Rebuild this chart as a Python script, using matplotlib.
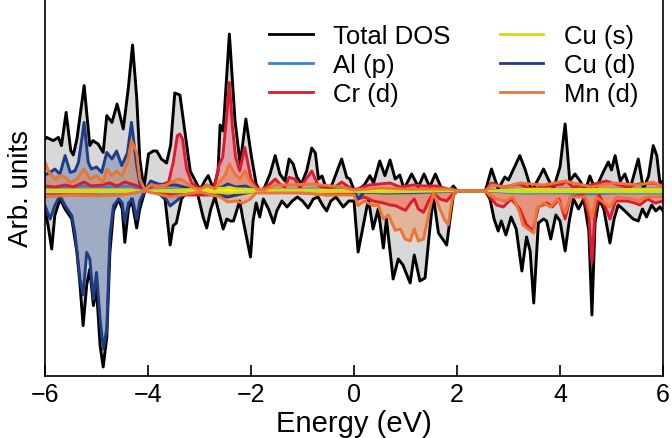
import numpy as np
import matplotlib
matplotlib.use("Agg")
import matplotlib.pyplot as plt

plt.rcParams['font.family'] = ['Liberation Sans', 'DejaVu Sans']

# ---------------- data (energy in eV, DOS in arb. units) ----------------
tot_up_E = [-6.00, -5.97, -5.84, -5.74, -5.68, -5.59, -5.50, -5.45, -5.38, -5.24, -5.13, -5.07,
            -4.97, -4.87, -4.80, -4.70, -4.60, -4.48, -4.38, -4.30, -4.22, -4.16, -4.08, -3.99,
            -3.90, -3.83, -3.74, -3.64, -3.56, -3.48, -3.38, -3.28, -3.18, -3.08, -2.99, -2.90,
            -2.83, -2.73, -2.64, -2.60, -2.54, -2.42, -2.31, -2.21, -2.10, -1.99, -1.90, -1.83,
            -1.75, -1.63, -1.53, -1.44, -1.34, -1.26, -1.18, -1.11, -1.02, -0.92, -0.82, -0.75,
            -0.69, -0.62, -0.53, -0.43, -0.24, -0.14, -0.08, 0.00, 0.10, 0.20, 0.31, 0.38,
            0.50, 0.60, 0.70, 0.80, 0.89, 0.97, 1.12, 1.25, 1.36, 1.47, 1.58, 1.72,
            1.85, 1.93, 2.00, 2.55, 2.67, 2.80, 2.93, 3.00, 3.09, 3.22, 3.32, 3.45,
            3.58, 3.68, 3.77, 3.87, 4.00, 4.10, 4.19, 4.29, 4.39, 4.49, 4.58, 4.68,
            4.72, 4.84, 4.94, 5.00, 5.07, 5.17, 5.26, 5.36, 5.52, 5.62, 5.72, 5.81,
            5.88, 5.94, 6.00]
tot_up = [2.60, 2.68, 2.52, 2.68, 2.27, 3.93, 2.02, 1.80, 2.60, 5.27, 2.27, 2.52,
          2.35, 1.93, 3.77, 3.43, 4.35, 3.10, 5.20, 7.30, 4.70, 1.60, 0.10, 1.85,
          2.00, 2.00, 1.60, 1.40, 2.30, 4.90, 4.80, 2.90, 1.00, 0.50, 0.05, 0.50,
          0.77, 0.10, 1.00, 3.30, 3.00, 7.85, 3.50, 1.35, 3.60, 1.70, 0.35, 0.00,
          0.10, 0.85, 1.77, 0.85, 0.50, 1.60, 1.35, 0.70, 0.35, 1.00, 2.15, 1.90,
          0.60, 0.75, 0.05, 0.30, 1.60, 0.68, 0.60, 0.05, 0.10, 0.30, 0.77, 0.40,
          1.50, 0.77, 1.55, 0.60, 0.80, 0.10, 0.85, 0.20, 0.85, 0.20, 0.85, 0.00,
          0.00, 0.25, 0.00, 0.00, 1.10, 0.10, 0.70, 0.55, 1.05, 1.77, 1.10, 0.00,
          0.60, 1.10, 0.60, 0.10, 1.20, 3.35, 0.50, 0.85, 0.50, 0.00, 0.75, 0.10,
          0.25, 0.95, 1.45, 1.05, 1.77, 0.50, 0.85, 0.10, 1.60, 0.10, 0.75, 2.27,
          1.77, 0.40, 0.50]

tot_dn_E = [-6.00, -5.94, -5.87, -5.81, -5.71, -5.61, -5.48, -5.38, -5.32, -5.26, -5.19, -5.13,
            -5.06, -5.00, -4.93, -4.87, -4.80, -4.74, -4.67, -4.57, -4.50, -4.45, -4.38, -4.32,
            -4.22, -4.16, -4.06, -3.80, -3.67, -3.57, -3.51, -3.45, -3.35, -3.25, -3.05, -2.93,
            -2.86, -2.78, -2.70, -2.57, -2.54, -2.47, -2.40, -2.34, -2.28, -2.22, -2.15, -2.08,
            -2.01, -1.96, -1.90, -1.83, -1.76, -1.66, -1.56, -1.50, -1.40, -1.30, -1.20, -1.10,
            -1.00, -0.89, -0.79, -0.70, -0.60, -0.53, -0.45, -0.35, -0.21, -0.10, 0.00, 0.08,
            0.18, 0.28, 0.37, 0.47, 0.57, 0.63, 0.76, 0.86, 0.95, 1.09, 1.17, 1.28,
            1.38, 1.46, 1.54, 1.64, 1.72, 1.80, 1.86, 1.93, 2.00, 2.55, 2.64, 2.72,
            2.80, 2.86, 2.95, 3.05, 3.15, 3.26, 3.35, 3.42, 3.49, 3.58, 3.68, 3.74,
            3.82, 3.92, 4.00, 4.10, 4.18, 4.26, 4.36, 4.46, 4.56, 4.62, 4.68, 4.76,
            4.85, 4.97, 5.05, 5.13, 5.22, 5.30, 5.42, 5.52, 5.60, 5.68, 5.78, 5.86,
            5.94, 6.00]
tot_dn = [-0.90, -1.73, -2.90, -1.23, -0.40, -0.90, -1.40, -3.07, -4.70, -6.73, -4.70, -3.90,
          -5.73, -4.90, -7.73, -8.80, -7.30, -3.07, -1.00, -0.40, -0.90, -2.57, -0.90, -0.40,
          -1.85, -0.90, 0.00, -0.10, -0.40, -2.70, -1.73, -1.60, -0.40, -0.05, 0.00, -1.30,
          -1.85, -0.90, -0.30, -1.60, -1.90, -1.40, -1.50, -1.50, -1.00, -0.50, -1.50, -2.40,
          -3.30, -1.50, -0.60, -1.30, -0.40, -0.90, -1.60, -1.00, -0.50, -0.80, -0.50, -0.30,
          -0.50, -0.85, -0.40, -0.30, -0.75, -1.00, -0.50, -0.30, -0.80, -0.50, -0.50, -3.05,
          -1.73, -0.40, -1.90, -0.90, -2.85, -1.40, -4.40, -3.40, -3.70, -4.60, -3.20, -4.50,
          -4.35, -2.20, -0.25, -2.10, -2.40, -2.70, -1.50, -0.20, 0.00, 0.00, -0.40, -1.40,
          -2.00, -1.50, -2.20, -1.30, -1.90, -4.00, -2.30, -3.00, -5.60, -1.60, -1.40, -1.50,
          -2.40, -1.20, -1.50, -3.00, -1.50, -0.40, -0.90, -0.40, -2.00, -6.20, -1.60, -0.40,
          -0.90, -2.60, -1.40, -0.70, -0.90, -1.10, -1.40, -1.50, -0.90, -1.30, -0.70, -1.00,
          -0.80, -1.00]

cud_up_E = [-6.00, -5.90, -5.81, -5.71, -5.61, -5.51, -5.42, -5.35, -5.24, -5.16, -5.10, -5.00,
            -4.90, -4.80, -4.70, -4.61, -4.51, -4.40, -4.32, -4.22, -4.16, -4.06, -3.95, -3.80,
            -3.65, -3.45, -3.30, -3.10, -2.90, -2.60, -2.45, -2.30, -2.10, -1.90, 0.00, 0.50,
            1.00, 2.00, 2.55, 3.20, 4.10, 5.00, 6.00]
cud_up = [0.80, 0.93, 1.10, 0.85, 1.77, 0.93, 1.00, 1.43, 3.43, 1.43, 1.10, 1.20,
          0.93, 1.93, 1.60, 2.00, 1.27, 1.90, 3.43, 1.27, 0.40, 0.00, 0.50, 0.35,
          0.30, 0.30, 0.20, 0.05, 0.05, 0.15, 0.35, 0.20, 0.25, 0.00, 0.00, 0.03,
          0.00, 0.00, 0.00, 0.01, 0.02, 0.01, 0.00]
cud_dn_E = [-6.00, -5.90, -5.81, -5.71, -5.61, -5.48, -5.42, -5.32, -5.26, -5.19, -5.13, -5.06,
            -5.00, -4.93, -4.87, -4.80, -4.74, -4.67, -4.57, -4.50, -4.45, -4.38, -4.30, -4.22,
            -4.16, -4.06, -3.80, -3.65, -3.57, -3.45, -3.30, -3.10, -2.95, -2.60, -2.45, -2.20,
            -1.90, 0.00, 0.08, 0.20, 0.57, 2.00, 2.55, 3.49, 4.62, 6.00]
cud_dn = [-0.73, -1.40, -0.73, -0.23, -0.73, -1.23, -2.07, -4.40, -5.20, -3.07, -3.40, -5.40,
          -4.07, -6.40, -7.90, -6.90, -2.23, -0.73, -0.40, -0.60, -1.57, -0.60, -0.40, -1.40,
          -0.50, 0.00, -0.10, -0.40, -0.75, -0.50, -0.15, 0.00, -0.10, -0.25, -0.30, -0.15,
          0.00, -0.01, -0.40, -0.05, -0.10, 0.00, 0.00, -0.03, -0.04, -0.01]

crd_up_E = [-6.00, -5.80, -5.60, -5.45, -5.24, -5.10, -4.90, -4.75, -4.60, -4.45, -4.32, -4.20,
            -4.06, -3.90, -3.75, -3.60, -3.51, -3.43, -3.38, -3.33, -3.25, -3.15, -3.00, -2.85,
            -2.72, -2.62, -2.55, -2.48, -2.42, -2.36, -2.30, -2.22, -2.12, -2.00, -1.90, -1.80,
            -1.63, -1.53, -1.44, -1.34, -1.26, -1.15, -1.05, -0.82, -0.70, -0.55, -0.40, -0.24,
            -0.10, 0.00, 0.30, 0.50, 0.70, 0.90, 1.15, 1.35, 1.60, 1.90, 2.00, 2.55,
            2.67, 2.90, 3.20, 3.45, 3.65, 4.05, 4.12, 4.25, 4.60, 4.90, 5.07, 5.30,
            5.52, 5.81, 6.00]
crd_up = [0.25, 0.20, 0.30, 0.20, 0.45, 0.25, 0.30, 0.40, 0.25, 0.45, 0.35, 0.25,
          0.05, 0.25, 0.30, 0.45, 1.43, 2.77, 2.85, 2.60, 1.10, 0.40, 0.10, 0.30,
          0.10, 1.30, 1.68, 3.50, 5.43, 3.20, 1.70, 1.00, 2.18, 0.60, 0.20, 0.05,
          0.35, 0.60, 0.35, 0.20, 0.68, 0.60, 0.15, 1.00, 0.30, 0.10, 0.15, 0.45,
          0.20, 0.05, 0.30, 0.35, 0.40, 0.20, 0.30, 0.25, 0.25, 0.05, 0.00, 0.00,
          0.40, 0.20, 0.35, 0.10, 0.20, 0.35, 0.50, 0.20, 0.30, 0.50, 0.35, 0.20,
          0.35, 0.40, 0.25]
crd_dn_E = [-6.00, -4.00, -3.57, -2.60, -2.45, -2.20, -1.90, -0.90, -0.53, 0.00, 0.08, 0.20,
            0.37, 0.57, 0.70, 0.80, 0.90, 1.00, 1.10, 1.17, 1.25, 1.35, 1.45, 1.54,
            1.67, 1.80, 1.90, 2.00, 2.55, 2.64, 2.77, 2.90, 3.05, 3.22, 3.35, 3.48,
            3.58, 3.75, 3.85, 3.98, 4.10, 4.20, 4.45, 4.56, 4.62, 4.68, 4.76, 4.88,
            4.97, 5.08, 5.30, 5.45, 5.55, 5.70, 5.85, 6.00]
crd_dn = [-0.10, 0.00, -0.20, -0.20, -0.30, -0.15, 0.00, -0.10, -0.20, -0.10, -0.40, -0.30,
          -0.50, -0.60, -0.70, -0.73, -0.85, -0.97, -0.60, -0.40, -0.90, -1.07, -0.50, -0.10,
          -0.40, -0.50, -0.20, 0.00, 0.00, -0.30, -0.70, -0.80, -0.40, -0.90, -1.70, -2.00,
          -0.80, -0.60, -0.80, -0.40, -1.40, -0.30, -0.20, -1.20, -3.57, -1.00, -0.20, -0.80,
          -1.40, -0.50, -0.50, -0.60, -0.70, -0.40, -0.60, -0.50]

mnd_up_E = [-6.00, -5.92, -5.81, -5.71, -5.61, -5.51, -5.38, -5.24, -5.13, -5.00, -4.87, -4.80,
            -4.70, -4.61, -4.51, -4.40, -4.32, -4.22, -4.16, -4.06, -3.95, -3.80, -3.65, -3.50,
            -3.40, -3.30, -3.15, -3.00, -2.85, -2.70, -2.60, -2.50, -2.42, -2.31, -2.21, -2.12,
            -2.00, -1.90, -1.75, -1.53, -1.26, -0.82, -0.24, 0.00, 0.50, 1.00, 1.50, 1.90,
            2.00, 2.55, 2.67, 2.93, 3.22, 3.68, 4.10, 4.60, 4.94, 5.07, 5.52, 5.81, 6.00]
mnd_up = [1.45, 0.93, 0.60, 0.77, 0.70, 0.43, 0.60, 1.10, 0.60, 0.77, 0.43, 1.10,
          0.77, 1.00, 0.77, 1.43, 2.52, 1.93, 0.60, 0.05, 0.30, 0.25, 0.30, 0.50,
          0.60, 0.50, 0.20, 0.05, 0.30, 0.10, 0.50, 0.80, 1.35, 0.85, 0.60, 1.00,
          0.40, 0.10, 0.05, 0.30, 0.30, 0.35, 0.20, 0.05, 0.15, 0.10, 0.10, 0.10,
          0.00, 0.00, 0.30, 0.20, 0.40, 0.30, 0.50, 0.20, 0.35, 0.40, 0.30, 0.45, 0.20]
mnd_dn_E = [-6.00, -5.50, -5.00, -4.50, -4.06, -3.57, -3.00, -2.60, -2.45, -2.30, -2.15, -2.01,
            -1.90, -1.00, -0.53, 0.00, 0.08, 0.20, 0.37, 0.47, 0.57, 0.67, 0.80, 0.90,
            0.99, 1.09, 1.17, 1.25, 1.35, 1.44, 1.54, 1.67, 1.75, 1.83, 1.90, 1.95,
            2.00, 2.55, 2.64, 2.77, 2.93, 3.09, 3.22, 3.28, 3.42, 3.49, 3.55, 3.68,
            3.82, 3.95, 4.10, 4.20, 4.50, 4.62, 4.70, 4.97, 5.10, 5.42, 5.52, 5.70, 6.00]
mnd_dn = [-0.30, -0.20, -0.25, -0.20, 0.00, -0.30, -0.05, -0.30, -0.55, -0.50, -0.60, -0.40,
          -0.10, -0.10, -0.20, -0.20, -0.73, -0.50, -0.73, -0.70, -1.40, -1.20, -1.97, -1.90,
          -2.40, -2.50, -1.90, -2.50, -2.40, -1.30, -0.10, -0.90, -1.40, -1.70, -0.50, -0.10,
          0.00, 0.00, -0.20, -0.40, -0.50, -0.30, -1.10, -1.70, -1.97, -2.10, -0.90, -0.60,
          -0.80, -0.40, -1.10, -0.30, -0.30, -1.40, -0.30, -0.80, -0.30, -0.40, -0.50, -0.30, -0.30]

alp_E = [-6.00, -5.24, -4.80, -4.32, -4.06, -3.40, -2.42, -1.50, -0.80, 0.00, 0.70, 1.20,
         2.00, 2.55, 3.20, 4.10, 4.60, 5.10, 6.00]
alp_up = [0.15, 0.25, 0.20, 0.25, 0.00, 0.10, 0.15, 0.05, 0.10, 0.05, 0.08, 0.08,
          0.00, 0.00, 0.10, 0.10, 0.08, 0.10, 0.10]
alp_dn = [-0.10, -0.20, -0.20, -0.10, 0.00, -0.08, -0.10, -0.05, -0.05, -0.05, -0.10, -0.10,
          0.00, 0.00, -0.10, -0.10, -0.15, -0.10, -0.10]

cus_E = [-6.00, -5.24, -4.80, -4.32, -4.06, -3.40, -2.50, -2.42, -2.30, -1.50, -0.80, 0.00,
         0.40, 0.60, 0.80, 1.20, 2.00, 2.55, 3.20, 3.60, 4.10, 4.60, 5.10, 5.50, 6.00]
cus_up = [0.06, 0.05, 0.06, 0.05, 0.00, 0.06, 0.15, 0.20, 0.12, 0.05, 0.06, 0.03,
          0.12, 0.15, 0.08, 0.05, 0.00, 0.00, 0.08, 0.10, 0.08, 0.10, 0.08, 0.10, 0.08]
cus_dn = [-0.05, -0.05, -0.05, -0.04, 0.00, -0.04, -0.08, -0.10, -0.08, -0.03, -0.04, -0.03,
          -0.05, -0.06, -0.05, -0.03, 0.00, 0.00, -0.05, -0.05, -0.05, -0.05, -0.05, -0.05, -0.05]

labels = ['Total DOS', 'Al (p)', 'Cr (d)', 'Cu (s)', 'Cu (d)', 'Mn (d)']
xticks = [-6, -4, -2, 0, 2, 4, 6]

# ---------------- figure ----------------
fig = plt.figure(figsize=(6.72, 4.39), dpi=100)
ax = fig.add_axes([45/672, 1 - 376.5/439, 618/672, 376.5/439])

c_tot, c_alp, c_crd, c_cus, c_cud, c_mnd = 'black', '#2f86d6', '#e0192e', '#d2da1e', '#1f3c85', '#ec7434'

# fills
ax.fill_between(tot_up_E, 0, tot_up, color='#d2d2d2', alpha=0.85, lw=0, zorder=1)
ax.fill_between(tot_dn_E, 0, tot_dn, color='#d2d2d2', alpha=0.85, lw=0, zorder=1)
ax.fill_between(cud_up_E, 0, cud_up, color='#4a6aa8', alpha=0.4, lw=0, zorder=1.2)
ax.fill_between(cud_dn_E, 0, cud_dn, color='#4a6aa8', alpha=0.4, lw=0, zorder=1.2)
ax.fill_between(crd_up_E, 0, crd_up, color='#f0283c', alpha=0.3, lw=0, zorder=1.3)
ax.fill_between(crd_dn_E, 0, crd_dn, color='#f0283c', alpha=0.3, lw=0, zorder=1.3)
ax.fill_between(mnd_up_E, 0, mnd_up, color='#f47a30', alpha=0.38, lw=0, zorder=1.4)
ax.fill_between(mnd_dn_E, 0, mnd_dn, color='#f47a30', alpha=0.38, lw=0, zorder=1.4)

lw = 2.1
ax.plot(tot_up_E, tot_up, color=c_tot, lw=lw, label=labels[0], zorder=2)
ax.plot(tot_dn_E, tot_dn, color=c_tot, lw=lw, zorder=2)
ax.plot(alp_E, alp_up, color=c_alp, lw=lw, label=labels[1], zorder=2.1)
ax.plot(alp_E, alp_dn, color=c_alp, lw=lw, zorder=2.1)
ax.plot(crd_up_E, crd_up, color=c_crd, lw=lw, label=labels[2], zorder=2.2)
ax.plot(crd_dn_E, crd_dn, color=c_crd, lw=lw, zorder=2.2)
ax.plot(cud_up_E, cud_up, color=c_cud, lw=lw, label=labels[4], zorder=2.25)
ax.plot(cud_dn_E, cud_dn, color=c_cud, lw=lw, zorder=2.25)
ax.fill_between(cus_E, cus_dn, cus_up, color='#fff200', alpha=0.95, lw=0, zorder=2.3)
ax.plot(cus_E, cus_up, color=c_cus, lw=1.8, label=labels[3], zorder=2.32)
ax.plot(cus_E, cus_dn, color=c_cus, lw=1.8, zorder=2.32)
ax.plot(mnd_up_E, mnd_up, color=c_mnd, lw=lw, label=labels[5], zorder=2.5)
ax.plot(mnd_dn_E, mnd_dn, color=c_mnd, lw=lw, zorder=2.5)

ax.set_xlim(-6, 6)
ax.set_ylim(-9.225, 9.6)
ax.set_xticks(xticks)
ax.set_yticks([])
ax.tick_params(axis='x', direction='in', length=8, width=1.2, labelsize=18, pad=5)
ax.spines['top'].set_visible(False)
for s in ['left', 'right', 'bottom']:
    ax.spines[s].set_linewidth(1.2)
ax.set_xlabel('Energy (eV)', fontsize=21, labelpad=2)
ax.set_ylabel('Arb. units', fontsize=20, labelpad=8)

handles, labs = ax.get_legend_handles_labels()
order = [labs.index(l) for l in labels]
leg = ax.legend([handles[i] for i in order], [labs[i] for i in order],
                ncol=2, loc='upper right', bbox_to_anchor=(0.985, 0.975), frameon=False,
                fontsize=18.5, handlelength=1.7, handletextpad=0.8, columnspacing=1.9,
                labelspacing=0.2, borderaxespad=0.2)
for l in leg.get_lines():
    l.set_linewidth(2.0)

fig.savefig('out.png', dpi=100)
